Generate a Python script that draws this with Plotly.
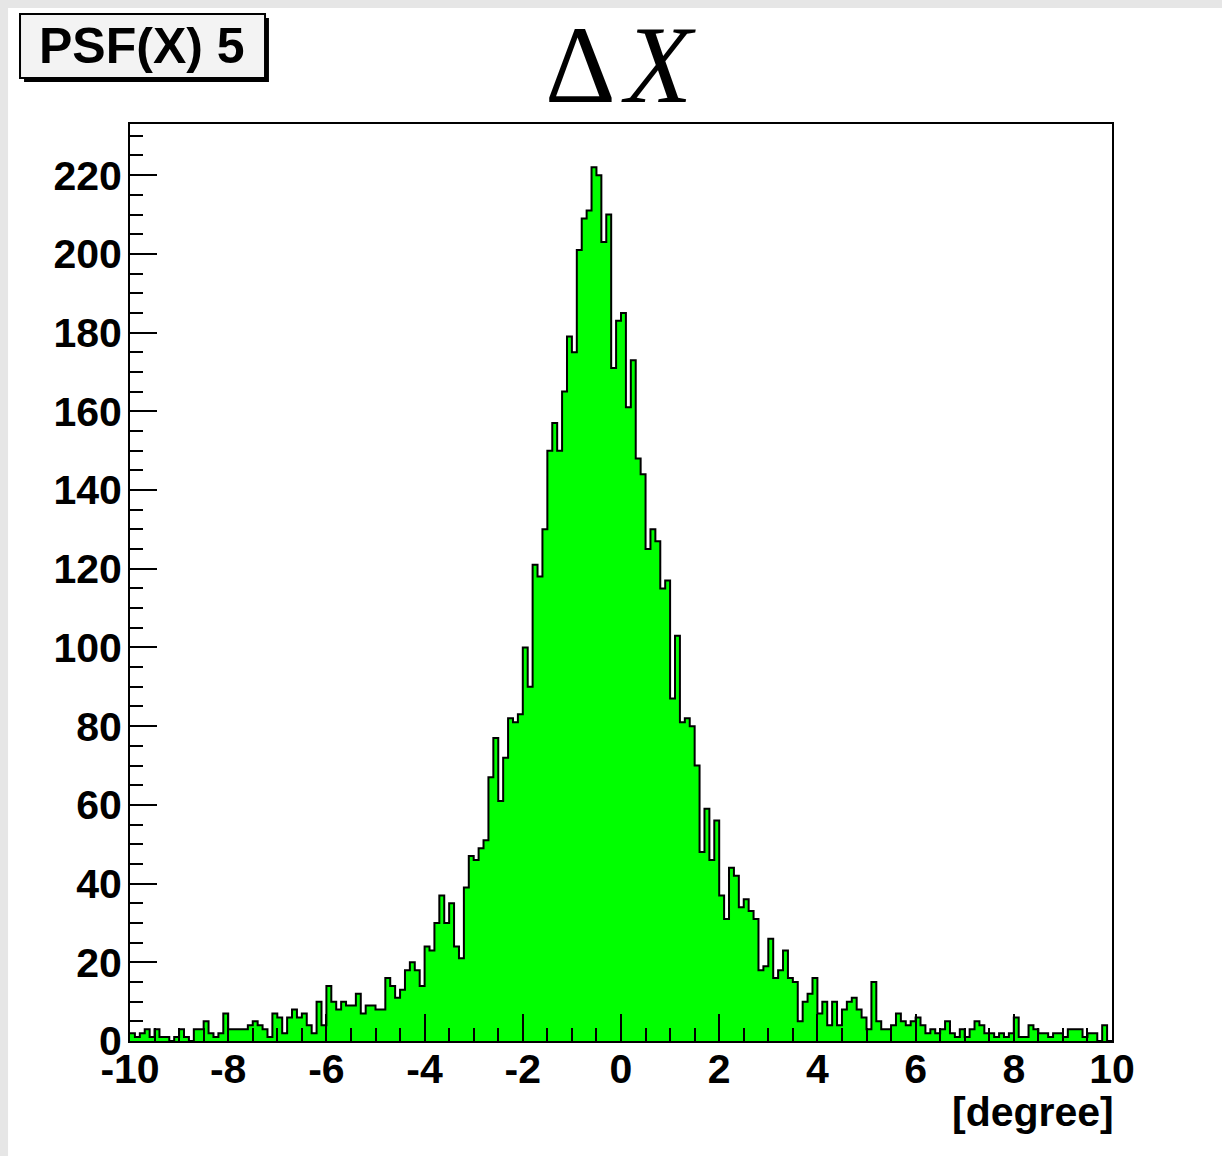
import numpy as np
import plotly.graph_objects as go

# ---- data (200 bins of 0.1 deg from -10 to 10) ----
x_low = -10.0
x_high = 10.0
bin_width = 0.1

counts_m10_m6 = [2, 1, 2, 3, 1, 3, 1, 1, 0, 1, 3, 1, 0, 3, 3, 5, 2, 1, 2, 7,
                 3, 3, 3, 3, 4, 5, 4, 3, 1, 7, 6, 2, 6, 8, 6, 7, 4, 2, 10, 4]
counts_m6_m3 = [14, 10, 8, 10, 9, 9, 12, 7, 9, 9, 8, 8, 16, 14, 11, 13, 18, 20, 18, 14,
                24, 23, 30, 37, 30, 35, 24, 21, 39, 47]
counts_m3_0 = [46, 49, 51, 67, 77, 61, 72, 82, 81, 83, 100, 90, 121, 118, 130, 150,
               157, 150, 165, 179, 175, 201, 209, 211, 222, 220, 203, 210, 171, 183]
counts_0_35 = [185, 161, 173, 148, 144, 125, 130, 127, 115, 117, 87, 103, 81, 82, 80,
               70, 48, 59, 46, 56, 37, 31, 44, 42, 34, 36, 33, 31, 18, 19, 26, 16, 18, 23, 16, 15]
counts_35_6 = [5, 10, 12, 16, 7, 10, 4, 10, 4, 8, 10, 11, 8, 6, 3, 15, 5, 3, 3, 4, 7, 5, 4, 5, 6]
counts_6_10 = [4, 2, 3, 2, 3, 5, 2, 1, 3, 1, 3, 5, 4, 2, 2, 1, 2, 1, 2, 6,
               1, 1, 4, 3, 2, 2, 1, 2, 2, 1, 3, 3, 3, 1, 2, 2, 0, 4, 0]

counts = counts_m10_m6 + counts_m6_m3 + counts_m3_0 + counts_0_35 + counts_35_6 + counts_6_10

x_tick_vals = [-10, -8, -6, -4, -2, 0, 2, 4, 6, 8, 10]
x_tick_text = ["-10", "-8", "-6", "-4", "-2", "0", "2", "4", "6", "8", "10"]
y_tick_vals = [0, 20, 40, 60, 80, 100, 120, 140, 160, 180, 200, 220]

title_text = "Δ\u200a<i>X</i>"
box_text = "PSF(X) 5"
x_label = "[degree]"

# ---- figure ----
n_bins = len(counts)
edges = np.round(x_low + bin_width * np.arange(n_bins + 1), 3)
step_y = counts + [counts[-1]]

fig = go.Figure()
fig.add_trace(go.Scatter(
    x=edges, y=step_y, mode="lines", line_shape="hv",
    fill="tozeroy", fillcolor="#00ff00",
    line=dict(color="black", width=2), hoverinfo="skip"))

tickfont = dict(family="Liberation Sans, Arial, sans-serif", size=41, color="black", weight="bold")

fig.update_layout(
    width=1222, height=1156,
    margin=dict(l=130, r=110, t=124, b=115),
    paper_bgcolor="white", plot_bgcolor="white",
    showlegend=False,
    xaxis=dict(range=[x_low, x_high], tickvals=x_tick_vals, ticktext=x_tick_text,
               ticks="inside", ticklen=27, tickwidth=2, tickcolor="black",
               showline=True, linewidth=2, linecolor="black", mirror=True,
               showgrid=False, zeroline=False, tickfont=tickfont,
               ticklabelstandoff=-9,
               minor=dict(dtick=0.5, tick0=0, ticks="inside", ticklen=13, tickwidth=2,
                          tickcolor="black", showgrid=False)),
    yaxis=dict(range=[0, 233], tickvals=y_tick_vals,
               ticks="inside", ticklen=27, tickwidth=2, tickcolor="black",
               showline=True, linewidth=2, linecolor="black", mirror=True,
               showgrid=False, zeroline=False, tickfont=tickfont,
               ticklabelstandoff=-2,
               minor=dict(dtick=5, tick0=0, ticks="inside", ticklen=13, tickwidth=2,
                          tickcolor="black", showgrid=False)),
)

# page border shading (left and top strips)
fig.add_shape(type="rect", xref="paper", yref="paper", x0=-0.1324, x1=-0.1242, y0=-0.126, y1=1.1352,
              fillcolor="#e6e6e6", line_width=0, layer="below")
fig.add_shape(type="rect", xref="paper", yref="paper", x0=-0.1324, x1=1.112, y0=1.1265, y1=1.1352,
              fillcolor="#e6e6e6", line_width=0, layer="below")

# PSF label box with shadow
fig.add_shape(type="rect", xref="paper", yref="paper", x0=-0.1079, x1=0.1415, y0=1.0458, y1=1.1156,
              fillcolor="black", line_width=0)
fig.add_shape(type="rect", xref="paper", yref="paper", x0=-0.1120, x1=0.1375, y0=1.0502, y1=1.1200,
              fillcolor="#f3f3f3", line=dict(color="black", width=2))
fig.add_annotation(text=box_text, xref="paper", yref="paper", x=0.0127, y=1.0851,
                   xanchor="center", yanchor="middle", showarrow=False,
                   font=dict(family="Liberation Sans, Arial, sans-serif", size=50, color="black", weight="bold"))

# title
fig.add_annotation(text=title_text, xref="paper", yref="paper", x=0.4996, y=1.064,
                   xanchor="center", yanchor="middle", showarrow=False,
                   font=dict(family="Liberation Serif, Times New Roman, serif", size=110, color="black"))

# x-axis label
fig.add_annotation(text=x_label, xref="paper", yref="paper", x=1.004, y=-0.077,
                   xanchor="right", yanchor="middle", showarrow=False,
                   font=dict(family="Liberation Sans, Arial, sans-serif", size=41, color="black", weight="bold"))

fig.write_html("out.html")
